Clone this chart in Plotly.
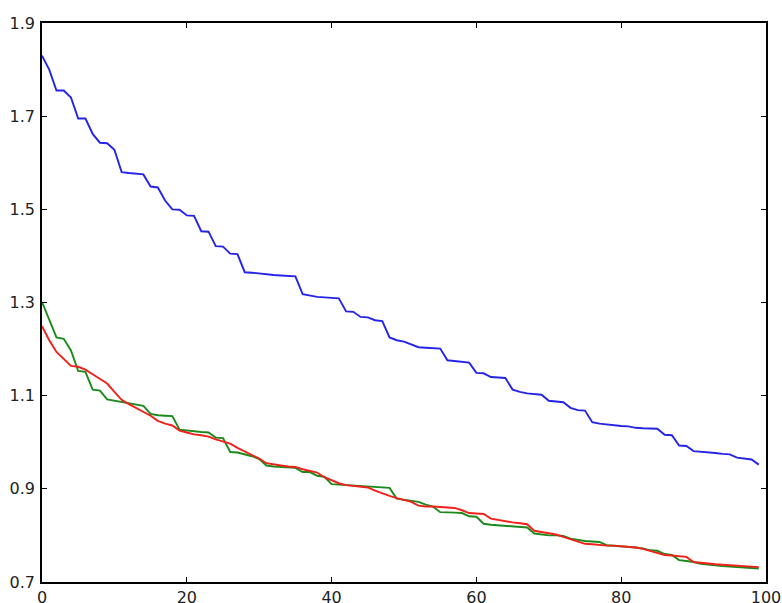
import plotly.graph_objects as go

x_vals = list(range(100))

blue_vals = [1.830, 1.800, 1.755, 1.755, 1.740, 1.695, 1.695, 1.662, 1.643, 1.642,
             1.628, 1.580, 1.578, 1.576, 1.575, 1.549, 1.547, 1.519, 1.500, 1.499,
             1.487, 1.486, 1.453, 1.452, 1.421, 1.420, 1.405, 1.404, 1.365, 1.364,
             1.362, 1.361, 1.359, 1.358, 1.357, 1.356, 1.318, 1.315, 1.312, 1.311,
             1.310, 1.309, 1.281, 1.280, 1.269, 1.268, 1.262, 1.260, 1.225, 1.219,
             1.216, 1.210, 1.204, 1.203, 1.202, 1.201, 1.176, 1.174, 1.172, 1.171,
             1.149, 1.148, 1.140, 1.139, 1.138, 1.113, 1.108, 1.105, 1.103, 1.102,
             1.089, 1.087, 1.086, 1.074, 1.069, 1.068, 1.043, 1.040, 1.038, 1.036,
             1.035, 1.034, 1.031, 1.030, 1.029, 1.029, 1.016, 1.015, 0.993, 0.992,
             0.981, 0.980, 0.978, 0.977, 0.975, 0.974, 0.967, 0.965, 0.963, 0.952]

green_vals = [1.301, 1.262, 1.225, 1.222, 1.197, 1.153, 1.151, 1.113, 1.111, 1.092,
              1.089, 1.087, 1.083, 1.080, 1.078, 1.061, 1.058, 1.057, 1.056, 1.027,
              1.025, 1.024, 1.022, 1.021, 1.010, 1.009, 0.979, 0.978, 0.974, 0.970,
              0.964, 0.950, 0.948, 0.947, 0.946, 0.945, 0.936, 0.936, 0.928, 0.926,
              0.910, 0.909, 0.908, 0.906, 0.905, 0.904, 0.903, 0.903, 0.902, 0.879,
              0.877, 0.874, 0.872, 0.866, 0.862, 0.850, 0.850, 0.849, 0.848, 0.841,
              0.840, 0.825, 0.823, 0.822, 0.821, 0.820, 0.818, 0.817, 0.804, 0.802,
              0.800, 0.800, 0.799, 0.793, 0.790, 0.788, 0.787, 0.786, 0.779, 0.778,
              0.777, 0.776, 0.774, 0.772, 0.768, 0.767, 0.760, 0.758, 0.747, 0.745,
              0.743, 0.739, 0.737, 0.735, 0.734, 0.733, 0.732, 0.730, 0.729, 0.729]

red_vals = [1.249, 1.219, 1.194, 1.178, 1.164, 1.162, 1.156, 1.146, 1.136, 1.126,
            1.108, 1.091, 1.082, 1.074, 1.066, 1.057, 1.046, 1.040, 1.036, 1.025,
            1.021, 1.017, 1.015, 1.012, 1.006, 1.002, 0.997, 0.988, 0.980, 0.973,
            0.965, 0.955, 0.952, 0.950, 0.948, 0.947, 0.942, 0.938, 0.935, 0.925,
            0.918, 0.912, 0.908, 0.906, 0.905, 0.903, 0.896, 0.890, 0.885, 0.880,
            0.876, 0.872, 0.864, 0.862, 0.862, 0.861, 0.860, 0.859, 0.854, 0.848,
            0.847, 0.846, 0.836, 0.833, 0.830, 0.828, 0.826, 0.824, 0.810, 0.807,
            0.804, 0.802, 0.797, 0.792, 0.787, 0.782, 0.781, 0.779, 0.778, 0.778,
            0.777, 0.776, 0.774, 0.771, 0.767, 0.762, 0.758, 0.757, 0.756, 0.754,
            0.743, 0.741, 0.739, 0.738, 0.737, 0.736, 0.736, 0.735, 0.733, 0.732]

x_ticks = [0, 20, 40, 60, 80, 100]
y_ticks = [0.7, 0.9, 1.1, 1.3, 1.5, 1.7, 1.9]
y_tick_labels = ["0.7", "0.9", "1.1", "1.3", "1.5", "1.7", "1.9"]

fig = go.Figure()
for vals, color in [(blue_vals, "#2424e8"), (green_vals, "#1a8a1a"), (red_vals, "#f0201a")]:
    fig.add_trace(go.Scatter(x=x_vals, y=vals, mode="lines",
                             line=dict(color=color, width=1.9), showlegend=False,
                             hoverinfo="skip"))

axis_common = dict(showline=True, linecolor="black", linewidth=1.5, mirror="allticks",
                   ticks="inside", ticklen=5, tickwidth=1, tickcolor="black",
                   showgrid=False, zeroline=False, automargin=False,
                   ticklabeloverflow="allow",
                   tickfont=dict(family="DejaVu Sans", size=16, color="#222222"))

fig.update_xaxes(range=[0, 100], tickvals=x_ticks, ticktext=[str(t) for t in x_ticks],
                 ticklabelstandoff=0, **axis_common)
fig.update_yaxes(range=[0.7, 1.9], tickvals=y_ticks, ticktext=y_tick_labels,
                 ticklabelstandoff=2, **axis_common)

fig.update_layout(width=782, height=603, paper_bgcolor="white", plot_bgcolor="white",
                  margin=dict(l=42, r=16, t=23, b=21))

# remove the page's default body margin so the figure fills the window exactly
fig.write_html("out.html",
               config={"displayModeBar": False},
               post_script="document.body.style.margin='0';"
                           "document.body.style.overflow='hidden';")
